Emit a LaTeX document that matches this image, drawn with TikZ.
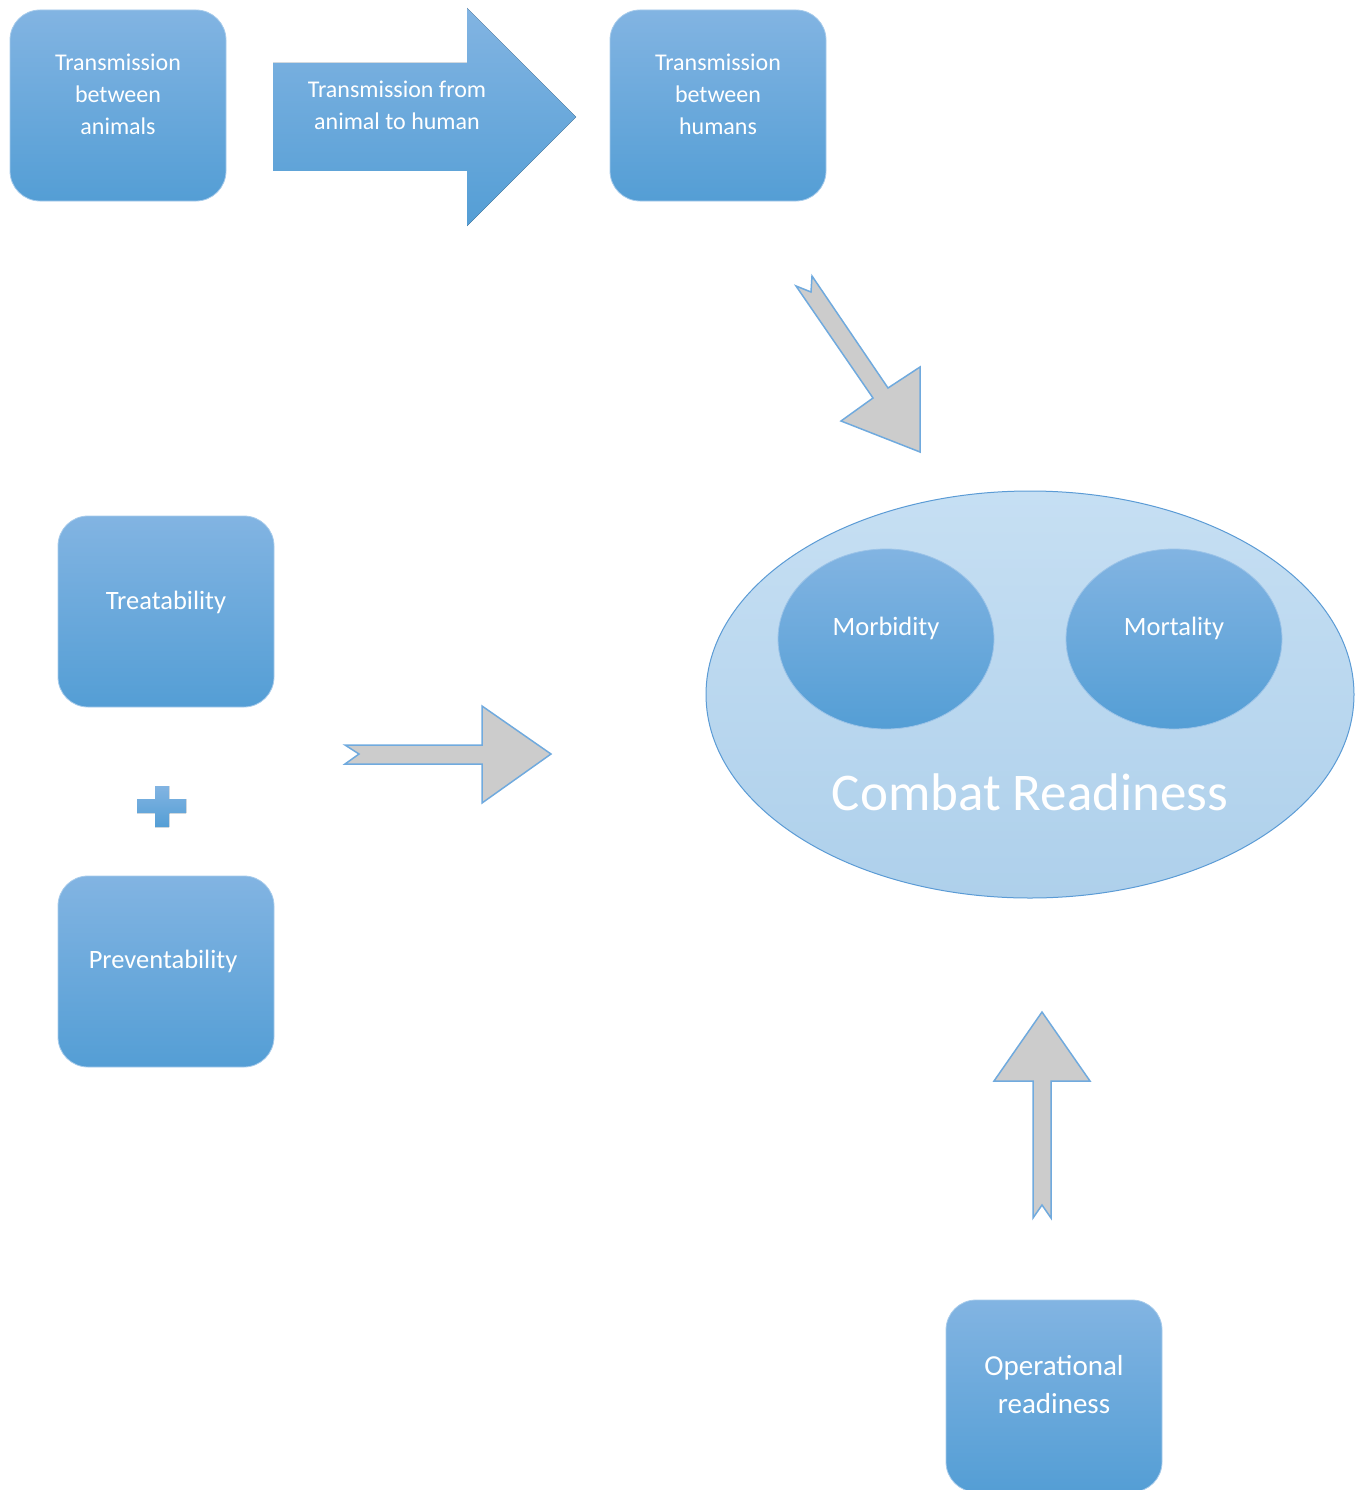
\documentclass[tikz,border=0pt]{standalone}
\usepackage{fontspec}
\setmainfont{Carlito}
\usetikzlibrary{shapes.geometric}
\definecolor{boxtop}{RGB}{130,180,226}
\definecolor{boxbot}{RGB}{84,158,213}
\definecolor{ovaltop}{RGB}{198,223,243}
\definecolor{ovalbot}{RGB}{174,208,235}
\definecolor{ovalline}{RGB}{91,155,213}
\definecolor{arrowgray}{RGB}{204,204,204}
\definecolor{arrowline}{RGB}{112,170,222}
\tikzset{
	bluebox/.style={rectangle,rounded corners=30,minimum width=216,minimum height=191,top color=boxtop,bottom color=boxbot,draw=boxtop!70!white,line width=0.8},
	blueoval/.style={ellipse,minimum width=216,minimum height=180,top color=boxtop,bottom color=boxbot,draw=boxtop!80!white,line width=0.8},
	boxtext/.style={text=white,align=center,font=\fontsize{24}{32}\selectfont},
	grayarrow/.style={fill=arrowgray,draw=arrowline,line width=1.5,line join=miter}
}
\begin{document}
\begin{tikzpicture}[x=1pt,y=-1pt]
			\useasboundingbox (0,0) rectangle (1365,1490);
			% Boxes at the top
			\node[bluebox] (animals) at (118,105.5) {};
			\node[bluebox] (humans) at (718,105.5) {};
			\node[boxtext] at (118,94) {Transmission\\between\\animals};
			\node[boxtext] at (718,94) {Transmission\\between\\humans};
			\fill[top color=boxtop,bottom color=boxbot] (273,63)--(467,63)--(467,8)--(576,117)--(467,226)--(467,171)--(273,171)--cycle; % Mũi tên xanh
			\node[boxtext] at (397,105.5) {Transmission from\\animal to human};
			% Treatability + Preventability
			\node[bluebox] (treat) at (166,611.5) {};
			\node[bluebox] (prevent) at (166,971.5) {};
			\node[boxtext,font=\fontsize{26.5}{32}\selectfont] at (166,602) {Treatability};
			\node[boxtext,font=\fontsize{26.5}{32}\selectfont] at (163,961) {Preventability};
			\fill[top color=boxtop,bottom color=boxbot] (155,786)--(169,786)--(169,799)--(186,799)--(186,813)--(169,813)--(169,827)--(155,827)--(155,813)--(137,813)--(137,799)--(155,799)--cycle; % Dấu cộng
			% Combat readiness
			\node[ellipse,minimum width=648,minimum height=407,top color=ovaltop,bottom color=ovalbot,draw=ovalline,line width=1] (combat) at (1030,694.5) {};
			\node[blueoval] (morb) at (886,639) {};
			\node[blueoval] (mort) at (1174,639) {};
			\node[boxtext,font=\fontsize{26.5}{32}\selectfont] at (886,628) {Morbidity};
			\node[boxtext,font=\fontsize{26.5}{32}\selectfont] at (1174,628) {Mortality};
			\node[boxtext,font=\fontsize{53}{60}\selectfont] at (1030,792) {Combat Readiness};
			% Operational readiness
			\node[bluebox,minimum height=192] (oper) at (1054,1396) {};
			\node[boxtext,font=\fontsize{29}{38}\selectfont] at (1054,1385) {Operational\\readiness};
			% Gray arrows
			\draw[grayarrow] (812,276)--(888,388)--(920,367)--(920,452)--(841,421)--(873,398)--(796,286)--(811,292)--cycle; % Chéo xuống
			\draw[grayarrow] (345,745)--(482,745)--(482,706)--(551,754)--(482,803)--(482,764)--(345,764)--(359,754)--cycle; % Sang phải
			\draw[grayarrow] (1042,1012)--(1090,1081)--(1051,1081)--(1051,1218)--(1042,1205)--(1033,1218)--(1033,1081)--(994,1081)--cycle; % Đi lên
		\end{tikzpicture}
\end{document}
